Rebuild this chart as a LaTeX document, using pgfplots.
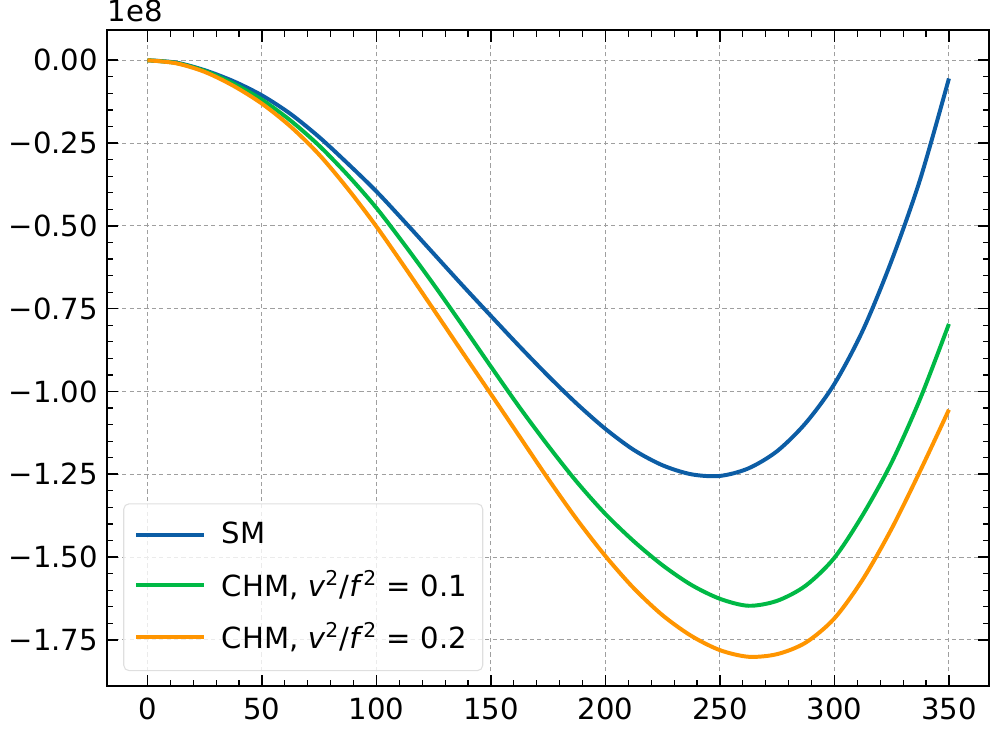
\documentclass[border=0pt]{standalone}
\usepackage{fontspec}
\setmainfont{DejaVu Sans}
\usepackage{pgfplots}
\pgfplotsset{compat=1.18}
\definecolor{smblue}{HTML}{0C5DA5}
\definecolor{chmgreen}{HTML}{00B945}
\definecolor{chmorange}{HTML}{FF9500}

\begin{document}
\begin{tikzpicture}
\begin{axis}[
  scale only axis,
  width=11.71cm, height=8.71cm,
  xmin=-17.5, xmax=367.5,
  ymin=-1.89, ymax=0.09,
  clip mode=individual,
  xtick={0,50,100,150,200,250,300,350},
  xticklabels={0,50,100,150,200,250,300,350},
  ytick={0,-0.25,-0.5,-0.75,-1,-1.25,-1.5,-1.75},
  yticklabels={0.00,−0.25,−0.50,−0.75,−1.00,−1.25,−1.50,−1.75},
  minor x tick num=4, minor y tick num=4,
  tick align=inside,
  xtick pos=both, ytick pos=both,
  xticklabel pos=lower, yticklabel pos=left,
  major tick length=4.2pt, minor tick length=2.3pt,
  major tick style={black, line width=0.6pt},
  minor tick style={black, line width=0.45pt},
  axis line style={line width=0.75pt},
  grid=major,
  grid style={gray!75, dash pattern=on 1.6pt off 1.2pt, line width=0.35pt},
  tick label style={font=\fontsize{11}{13}\selectfont},
  xticklabel style={yshift=-1pt},
  legend cell align=left,
  legend style={at={(0.018,0.023)}, anchor=south west,
    draw=gray!25, rounded corners=2pt, fill=white, fill opacity=0.8, text opacity=1,
    font=\fontsize{11}{13}\selectfont, row sep=4.5pt, column sep=4pt,
    inner xsep=4pt, inner ysep=5pt},
  legend image code/.code={\draw[#1, line width=1.5pt] (0cm,0cm) -- (0.9cm,0cm);},
  every axis plot/.append style={line width=1.5pt, smooth},
]
% SM
\addplot[smblue] coordinates {
(0,0) (12.5,-0.007) (25,-0.03) (37.5,-0.063) (50,-0.106) (62.5,-0.162)
(75,-0.232) (87.5,-0.312) (100,-0.396) (112.5,-0.489) (125,-0.584) (137.5,-0.679)
(150,-0.772) (162.5,-0.864) (175,-0.953) (187.5,-1.037) (200,-1.113) (212.5,-1.177)
(225,-1.223) (237.5,-1.25) (250,-1.255) (262.5,-1.232) (275,-1.18)
(287.5,-1.095) (300,-0.977) (312.5,-0.814) (325,-0.604) (337.5,-0.358) (350,-0.055)
};
\addlegendentry{SM}
% CHM, v^2/f^2 = 0.1
\addplot[chmgreen] coordinates {
(0,0) (12.5,-0.008) (25,-0.032) (37.5,-0.07) (50,-0.119) (62.5,-0.182)
(75,-0.258) (87.5,-0.347) (100,-0.446) (112.5,-0.559) (125,-0.677) (137.5,-0.8)
(150,-0.925) (162.5,-1.048) (175,-1.164) (187.5,-1.273) (200,-1.37) (212.5,-1.453)
(225,-1.525) (237.5,-1.584) (250,-1.626) (262.5,-1.647) (275,-1.632) (287.5,-1.586)
(300,-1.502) (312.5,-1.371) (325,-1.214) (337.5,-1.021) (350,-0.796)
};
\addlegendentry{CHM, \textit{v}\textsuperscript{2}/\textit{f}\textsuperscript{2} = 0.1}
% CHM, v^2/f^2 = 0.2
\addplot[chmorange] coordinates {
(0,0) (12.5,-0.009) (25,-0.035) (37.5,-0.077) (50,-0.131) (62.5,-0.2)
(75,-0.285) (87.5,-0.388) (100,-0.502) (112.5,-0.626) (125,-0.753) (137.5,-0.881)
(150,-1.008) (162.5,-1.136) (175,-1.264) (187.5,-1.386) (200,-1.497) (212.5,-1.595)
(225,-1.676) (237.5,-1.738) (250,-1.781) (262.5,-1.801) (275,-1.793) (287.5,-1.758)
(300,-1.685) (312.5,-1.566) (325,-1.414) (337.5,-1.239) (350,-1.055)
};
\addlegendentry{CHM, \textit{v}\textsuperscript{2}/\textit{f}\textsuperscript{2} = 0.2}
\node[anchor=south west, inner sep=0pt, font=\fontsize{11}{13}\selectfont] at ([yshift=3pt]rel axis cs:0,1) {1e8};
\end{axis}
\end{tikzpicture}
\end{document}
